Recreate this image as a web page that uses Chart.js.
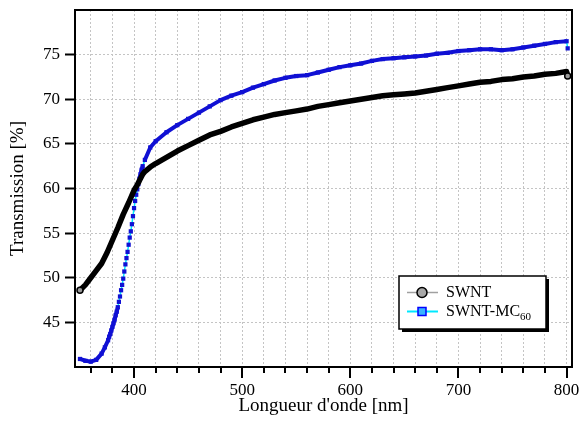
<!DOCTYPE html>
<html>
<head>
<meta charset="utf-8">
<script src="https://cdn.jsdelivr.net/npm/chart.js@4.4.1/dist/chart.umd.min.js"></script>
<style>
  html, body { margin: 0; padding: 0; background: #fff; }
</style>
</head>
<body>
<canvas id="jsChart" width="584" height="432"></canvas>
<script>
// SWNT
const swntNm = [350, 355, 360, 365, 370, 375, 380, 385, 390, 395, 400, 403, 405, 408, 410, 415, 420,
    430, 440, 450, 460, 470, 480, 490, 500, 510, 520, 530, 540, 550, 560, 570, 580, 590, 600,
    610, 620, 630, 640, 650, 660, 670, 680, 690, 700, 710, 720, 730, 740, 750, 760, 770, 780,
    790, 800, 801]
const swntT = [48.6, 49.2, 50.0, 50.8, 51.6, 52.8, 54.2, 55.6, 57.1, 58.4, 59.8, 60.4, 60.9, 61.6, 61.9, 62.4, 62.8,
    63.5, 64.2, 64.8, 65.4, 66.0, 66.4, 66.9, 67.3, 67.7, 68.0, 68.3, 68.5, 68.7, 68.9, 69.2, 69.4, 69.6, 69.8,
    70.0, 70.2, 70.4, 70.5, 70.6, 70.7, 70.9, 71.1, 71.3, 71.5, 71.7, 71.9, 72.0, 72.2, 72.3, 72.5, 72.6, 72.8,
    72.9, 73.1, 72.6]

// SWNT-MC60
const mc60Nm = [350, 355, 360, 365, 370, 373, 376, 377, 378, 379, 380, 381, 382, 383, 384, 385,
    386, 387, 388, 389, 390, 391, 392, 393, 394, 395, 396, 397, 398, 399, 400, 401, 402, 403,
    404, 405, 406, 407, 408, 410, 415, 420, 430, 440, 450, 460, 470, 480, 490, 500, 510, 520,
    530, 540, 550, 560, 570, 580, 590, 600, 610, 620, 630, 640, 650, 660, 670, 680, 690, 700,
    710, 720, 730, 740, 750, 760, 770, 780, 790, 800, 801]
const mc60T = [40.9, 40.7, 40.6, 40.8, 41.5, 42.2, 43.0, 43.4, 43.7, 44.1, 44.5, 44.9, 45.3, 45.8, 46.2, 46.7,
    47.3, 47.9, 48.6, 49.2, 49.9, 50.7, 51.5, 52.2, 52.9, 53.7, 54.5, 55.2, 56.0, 56.9, 57.8, 58.6, 59.3, 59.9,
    60.5, 61.1, 61.6, 62.1, 62.5, 63.2, 64.6, 65.3, 66.3, 67.1, 67.8, 68.5, 69.2, 69.9, 70.4, 70.8, 71.3, 71.7,
    72.1, 72.4, 72.6, 72.7, 73.0, 73.3, 73.6, 73.8, 74.0, 74.3, 74.5, 74.6, 74.7, 74.8, 74.9, 75.1, 75.2, 75.4,
    75.5, 75.6, 75.6, 75.5, 75.6, 75.8, 76.0, 76.2, 76.4, 76.5, 75.7]

const xTickValues = [360, 380, 400, 420, 440, 460, 480, 500, 520, 540, 560, 580, 600, 620, 640, 660,
    680, 700, 720, 740, 760, 780, 800]
const yTickValues = [45, 50, 55, 60, 65, 70, 75]

const seriesNames = ['SWNT', 'SWNT-MC', '60']

const serif = 'Liberation Serif'
const blue = '#1010d4'
const cyan = '#00e8ff'
const gridColor = '#c4c4c4'

// nur steile, dichte Abschnitte als dünne cyan Linie
const isSteep = ctx => Math.abs(ctx.p1.x - ctx.p0.x) < 3 && Math.abs(ctx.p1.y - ctx.p0.y) > 5

/**
 * Rahmen, kleine X-Ticks und Legende
 */
const frameAndLegend = {
    id: 'frameAndLegend',
    afterDraw(chart) {
        const { ctx, chartArea: a } = chart
        const x = chart.scales.x

        ctx.save()
        ctx.strokeStyle = '#000'
        ctx.lineWidth = 2
        xTickValues.forEach(v => {
            const px = Math.round(x.getPixelForValue(v))
            const len = v % 100 === 0 ? 11 : 6
            ctx.beginPath()
            ctx.moveTo(px, a.bottom)
            ctx.lineTo(px, a.bottom + len)
            ctx.stroke()
        })

        ctx.strokeRect(a.left, a.top, a.right - a.left, a.bottom - a.top)

        // Legende
        const lx = a.left + 324, ly = 276, lw = 147, lh = 53
        ctx.fillStyle = '#000'
        ctx.fillRect(lx + 3, ly + 3, lw, lh)
        ctx.fillStyle = '#fff'
        ctx.fillRect(lx, ly, lw, lh)
        ctx.lineWidth = 1.5
        ctx.strokeRect(lx, ly, lw, lh)

        const y1 = ly + 16.5, y2 = ly + 35.5, mx = lx + 23

        ctx.lineWidth = 1.5
        ctx.strokeStyle = '#a0a0a0'
        ctx.beginPath(); ctx.moveTo(lx + 8, y1); ctx.lineTo(lx + 39, y1); ctx.stroke()
        ctx.beginPath(); ctx.arc(mx, y1, 5, 0, Math.PI * 2)
        ctx.fillStyle = '#a8a8a8'; ctx.fill()
        ctx.strokeStyle = '#000'; ctx.stroke()

        ctx.lineWidth = 2
        ctx.strokeStyle = cyan
        ctx.beginPath(); ctx.moveTo(lx + 8, y2); ctx.lineTo(lx + 39, y2); ctx.stroke()
        ctx.fillStyle = '#38b4ff'
        ctx.fillRect(mx - 4, y2 - 4, 8, 8)
        ctx.strokeStyle = '#0000ff'
        ctx.lineWidth = 1.5
        ctx.strokeRect(mx - 4, y2 - 4, 8, 8)

        ctx.fillStyle = '#000'
        ctx.textBaseline = 'middle'
        ctx.textAlign = 'left'
        ctx.font = `16px "${serif}"`
        ctx.fillText(seriesNames[0], lx + 47, y1)
        ctx.fillText(seriesNames[1], lx + 47, y2)
        const w = ctx.measureText(seriesNames[1]).width
        ctx.font = `11px "${serif}"`
        ctx.fillText(seriesNames[2], lx + 47 + w, y2 + 6)
        ctx.restore()
    }
}

const tickFont = { family: serif, size: 17 }
const titleFont = { family: serif, size: 19 }

new Chart(document.getElementById('jsChart'), {
    type: 'line',
    data: {
        datasets: [{
            label: seriesNames[0],
            data: swntNm.map((v, i) => ({ x: v, y: swntT[i] })),
            borderColor: '#000',
            borderWidth: 5.5,
            borderCapStyle: 'round',
            borderJoinStyle: 'round',
            pointRadius: ctx => (ctx.dataIndex === 0 || ctx.dataIndex === swntNm.length - 1) ? 3 : 0,
            pointBackgroundColor: '#999',
            pointBorderColor: '#000',
            pointBorderWidth: 1.5,
            tension: 0
        }, {
            label: seriesNames[1] + seriesNames[2],
            data: mc60Nm.map((v, i) => ({ x: v, y: mc60T[i] })),
            borderColor: blue,
            borderWidth: 4,
            borderJoinStyle: 'round',
            segment: {
                borderColor: ctx => isSteep(ctx) ? cyan : blue,
                borderWidth: ctx => isSteep(ctx) ? 1.5 : 4
            },
            pointStyle: 'rect',
            pointRadius: 3,
            pointBackgroundColor: blue,
            pointBorderWidth: 0,
            tension: 0
        }]
    },
    options: {
        responsive: false,
        animation: false,
        layout: { padding: { top: 10, right: 12, left: 0, bottom: 0 } },
        plugins: {
            legend: { display: false },
            tooltip: { enabled: false }
        },
        scales: {
            x: {
                type: 'linear',
                min: 345.4,
                max: 805,
                afterBuildTicks: s => { s.ticks = xTickValues.map(v => ({ value: v })) },
                afterFit: s => {
                    s.height = 65
                    s.paddingLeft = 0
                    s.paddingRight = 0
                },
                ticks: {
                    callback: v => v % 100 === 0 ? v : '',
                    font: tickFont,
                    color: '#000',
                    padding: 2,
                    maxRotation: 0,
                    autoSkip: false
                },
                grid: {
                    color: gridColor,
                    lineWidth: 1,
                    tickLength: 11,
                    tickColor: 'rgba(0,0,0,0)'
                },
                border: { display: false, dash: [2, 2] },
                title: {
                    display: true,
                    text: "Longueur d'onde [nm]",
                    font: titleFont,
                    color: '#000',
                    padding: { top: 0, bottom: 15 }
                }
            },
            y: {
                min: 40,
                max: 80,
                afterBuildTicks: s => { s.ticks = yTickValues.map(v => ({ value: v })) },
                afterFit: s => {
                    s.width = 75
                    s.paddingTop = 0
                    s.paddingBottom = 0
                },
                ticks: {
                    font: tickFont,
                    color: '#000',
                    padding: 5
                },
                grid: {
                    color: gridColor,
                    lineWidth: 1,
                    tickLength: 10,
                    tickWidth: 2,
                    tickColor: '#000'
                },
                border: { display: false, dash: [2, 2] },
                title: {
                    display: true,
                    text: 'Transmission [%]',
                    font: titleFont,
                    color: '#000',
                    padding: { top: 7, bottom: 0 }
                }
            }
        }
    },
    plugins: [frameAndLegend]
})
</script>
</body>
</html>
